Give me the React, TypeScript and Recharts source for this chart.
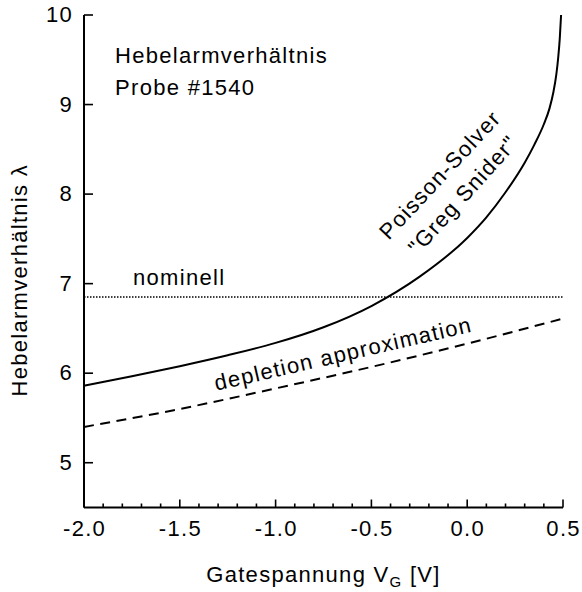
import React from 'react';
import { LineChart, Line, XAxis, YAxis, ReferenceLine, ReferenceDot } from 'recharts';

// Poisson-Solver "Greg Snider" curve (solid)
const poissonX = [-2.0, -1.75, -1.5, -1.25, -1.0, -0.75, -0.5, -0.25, 0.0, 0.1, 0.2, 0.3, 0.35, 0.4, 0.43, 0.45, 0.465, 0.475, 0.483, 0.49];
const poissonY = [5.86, 5.965, 6.078, 6.2, 6.338, 6.513, 6.75, 7.075, 7.51, 7.74, 8.02, 8.35, 8.55, 8.78, 8.96, 9.14, 9.335, 9.525, 9.733, 10.0];

// depletion approximation (dashed)
const depletionX = [-2.0, -1.5, -1.0, -0.5, 0.0, 0.5];
const depletionY = [5.4, 5.6, 5.83, 6.07, 6.33, 6.61];

// nominal value (dotted)
const nominalLambda = 6.85;

// ticks
const xMajorTicks = [-2.0, -1.5, -1.0, -0.5, 0.0, 0.5];
const xAllTicks = [-2.0, -1.9, -1.8, -1.7, -1.6, -1.5, -1.4, -1.3, -1.2, -1.1, -1.0, -0.9, -0.8, -0.7, -0.6, -0.5, -0.4, -0.3, -0.2, -0.1, 0.0, 0.1, 0.2, 0.3, 0.4, 0.5];
const yMajorTicks = [5, 6, 7, 8, 9, 10];
const xDomain = [-2.0, 0.5];
const yDomain = [4.5, 10];

// labels
const xTitle = 'Gatespannung V';
const xTitleSub = 'G';
const xTitleTail = ' [V]';
const yTitle = 'Hebelarmverhältnis λ';
const infoLine1 = 'Hebelarmverhältnis';
const infoLine2 = 'Probe #1540';
const nominalText = 'nominell';
const poissonText1 = 'Poisson-Solver';
const poissonText2 = '"Greg Snider"';
const depletionText = 'depletion approximation';

const poissonData = poissonX.map((x, i) => ({ x, y: poissonY[i] }));
const depletionData = depletionX.map((x, i) => ({ x, y: depletionY[i] }));

const FONT = '"Liberation Sans", Arial, Helvetica, sans-serif';
const FS = 22;
const LS = 1.3;

const isMajor = (v: number) => xMajorTicks.some((t) => Math.abs(t - v) < 1e-6);

const XTickBottom = (props: any) => {
  const { x, y, payload } = props;
  const v = payload.value;
  const major = isMajor(v);
  return (
    <g>
      <line x1={x} x2={x} y1={y} y2={y - (major ? 8 : 4)} stroke="#000" strokeWidth={1.6} />
      {major && (
        <text x={x + 0.6} y={y + 28} textAnchor="middle" fontFamily={FONT} fontSize={FS} letterSpacing={LS} fill="#000">
          {Math.abs(v) < 1e-9 ? '0.0' : v.toFixed(1)}
        </text>
      )}
    </g>
  );
};

const XTickTop = (props: any) => {
  const { x, y, payload } = props;
  const major = isMajor(payload.value);
  return <line x1={x} x2={x} y1={y} y2={y + (major ? 8 : 4)} stroke="#000" strokeWidth={1.6} />;
};

const YTickLeft = (props: any) => {
  const { x, y, payload } = props;
  return (
    <g>
      <line x1={x} x2={x + 9} y1={y} y2={y} stroke="#000" strokeWidth={1.6} />
      <text x={x - 11} y={y + 7.3} textAnchor="end" fontFamily={FONT} fontSize={FS} letterSpacing={LS} fill="#000">
        {String(payload.value)}
      </text>
    </g>
  );
};

const YTickRight = (props: any) => {
  const { x, y } = props;
  return <line x1={x} x2={x - 9} y1={y} y2={y} stroke="#000" strokeWidth={1.6} />;
};

const XTitle = (props: any) => {
  const vb = props.viewBox || {};
  const cx = vb.x + vb.width / 2;
  const by = vb.y + 74;
  return (
    <text x={cx} y={by} textAnchor="middle" fontFamily={FONT} fontSize={FS} letterSpacing={LS} fill="#000">
      {xTitle}
      <tspan fontSize={15} dy={5}>{xTitleSub}</tspan>
      <tspan dy={-5}>{xTitleTail}</tspan>
    </text>
  );
};

const YTitle = (props: any) => {
  const vb = props.viewBox || {};
  const bx = vb.x + 27;
  const cy = vb.y + vb.height / 2 + 19;
  return (
    <text x={bx} y={cy} textAnchor="middle" fontFamily={FONT} fontSize={FS} letterSpacing={LS} fill="#000" transform={`rotate(-90, ${bx}, ${cy})`}>
      {yTitle}
    </text>
  );
};

const makeText = (text: string, anchor: string, angle: number, central: boolean) => (p: any) => {
  const { cx, cy } = p;
  return (
    <text
      x={cx}
      y={cy}
      textAnchor={anchor}
      dominantBaseline={central ? 'central' : 'alphabetic'}
      fontFamily={FONT}
      fontSize={FS}
      letterSpacing={LS}
      fill="#000"
      transform={angle ? `rotate(${angle}, ${cx}, ${cy})` : undefined}
    >
      {text}
    </text>
  );
};

export default function App() {
  return (
    <div style={{ position: 'absolute', left: 0, top: 0, width: 582, height: 592, background: '#fff' }}>
      <LineChart width={582} height={592} margin={{ top: 15, right: 19, bottom: 54.5, left: 0 }}>
        <XAxis
          type="number"
          dataKey="x"
          domain={xDomain}
          allowDataOverflow
          ticks={xAllTicks}
          interval={0}
          height={30}
          tickSize={0}
          tickMargin={0}
          tickLine={false}
          axisLine={{ stroke: '#000', strokeWidth: 2 }}
          tick={<XTickBottom />}
          label={{ content: XTitle }}
        />
        <XAxis
          xAxisId="top"
          orientation="top"
          type="number"
          dataKey="x"
          domain={xDomain}
          allowDataOverflow
          ticks={xAllTicks}
          interval={0}
          height={0}
          tickSize={0}
          tickMargin={0}
          tickLine={false}
          axisLine={{ stroke: '#000', strokeWidth: 2 }}
          tick={<XTickTop />}
        />
        <YAxis
          type="number"
          dataKey="y"
          domain={yDomain}
          allowDataOverflow
          ticks={yMajorTicks}
          interval={0}
          width={84}
          tickSize={0}
          tickMargin={0}
          tickLine={false}
          axisLine={{ stroke: '#000', strokeWidth: 2 }}
          tick={<YTickLeft />}
          label={{ content: YTitle }}
        />
        <YAxis
          yAxisId="right"
          orientation="right"
          type="number"
          dataKey="y"
          domain={yDomain}
          allowDataOverflow
          ticks={yMajorTicks}
          interval={0}
          width={0}
          tickSize={0}
          tickMargin={0}
          tickLine={false}
          axisLine={{ stroke: '#000', strokeWidth: 2 }}
          tick={<YTickRight />}
        />
        <ReferenceLine y={nominalLambda} stroke="#000" strokeWidth={1.5} strokeDasharray="1.5 1.5" />
        <Line data={depletionData} dataKey="y" type="monotone" stroke="#000" strokeWidth={2} strokeDasharray="10 6.5" dot={false} activeDot={false} isAnimationActive={false} />
        <Line data={poissonData} dataKey="y" type="monotone" stroke="#000" strokeWidth={2} dot={false} activeDot={false} isAnimationActive={false} />
        <ReferenceDot x={-1.838} y={9.461} r={1} shape={makeText(infoLine1, 'start', 0, false)} />
        <ReferenceDot x={-1.838} y={9.107} r={1} shape={makeText(infoLine2, 'start', 0, false)} />
        <ReferenceDot x={-1.744} y={6.987} r={1} shape={makeText(nominalText, 'start', 0, false)} />
        <ReferenceDot x={-0.142} y={8.214} r={1} shape={makeText(poissonText1, 'middle', -47, true)} />
        <ReferenceDot x={-0.022} y={7.991} r={1} shape={makeText(poissonText2, 'middle', -48, true)} />
        <ReferenceDot x={-0.648} y={6.216} r={1} shape={makeText(depletionText, 'middle', -13, true)} />
      </LineChart>
    </div>
  );
}
